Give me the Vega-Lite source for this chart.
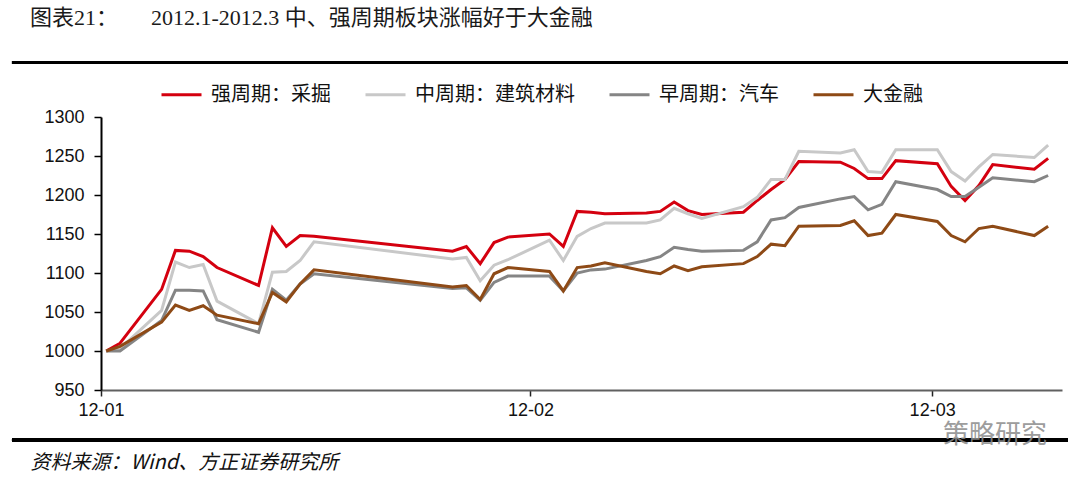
{
  "$schema": "https://vega.github.io/schema/vega-lite/v6.json",
  "width": 961,
  "height": 273,
  "autosize": {"type": "none"},
  "padding": {"left": 101, "top": 117, "right": 18, "bottom": 90},
  "background": "white",
  "title": {
    "text": "图表21：　　2012.1-2012.3 中、强周期板块涨幅好于大金融",
    "anchor": "start",
    "frame": "group",
    "dx": -71,
    "offset": 31,
    "font": "Liberation Serif, Noto Sans CJK SC",
    "fontSize": 22,
    "fontWeight": "normal",
    "color": "#1a1a1a"
  },
  "config": {
    "view": {"stroke": null},
    "axis": {"grid": false},
    "axisY": {"labelOverlap": false, "labelFlush": false}
  },
  "data": {
    "values": [
      {"date": "2012-01-05T00:00", "强周期：采掘": 1000, "中周期：建筑材料": 1000, "早周期：汽车": 1000, "大金融": 1000},
      {"date": "2012-01-06T00:00", "强周期：采掘": 1010, "中周期：建筑材料": 1003, "早周期：汽车": 1000, "大金融": 1006},
      {"date": "2012-01-09T00:00", "强周期：采掘": 1079, "中周期：建筑材料": 1052, "早周期：汽车": 1039, "大金融": 1037},
      {"date": "2012-01-10T00:00", "强周期：采掘": 1129, "中周期：建筑材料": 1114, "早周期：汽车": 1078, "大金融": 1059},
      {"date": "2012-01-11T00:00", "强周期：采掘": 1128, "中周期：建筑材料": 1107, "早周期：汽车": 1078, "大金融": 1052},
      {"date": "2012-01-12T00:00", "强周期：采掘": 1121, "中周期：建筑材料": 1111, "早周期：汽车": 1077, "大金融": 1058},
      {"date": "2012-01-13T00:00", "强周期：采掘": 1107, "中周期：建筑材料": 1064, "早周期：汽车": 1040, "大金融": 1046},
      {"date": "2012-01-16T00:00", "强周期：采掘": 1084, "中周期：建筑材料": 1035, "早周期：汽车": 1024, "大金融": 1035},
      {"date": "2012-01-17T00:00", "强周期：采掘": 1158, "中周期：建筑材料": 1101, "早周期：汽车": 1079, "大金融": 1075},
      {"date": "2012-01-18T00:00", "强周期：采掘": 1134, "中周期：建筑材料": 1102, "早周期：汽车": 1065, "大金融": 1063},
      {"date": "2012-01-19T00:00", "强周期：采掘": 1148, "中周期：建筑材料": 1116, "早周期：汽车": 1086, "大金融": 1086},
      {"date": "2012-01-20T00:00", "强周期：采掘": 1147, "中周期：建筑材料": 1140, "早周期：汽车": 1099, "大金融": 1104},
      {"date": "2012-01-30T00:00", "强周期：采掘": 1128, "中周期：建筑材料": 1118, "早周期：汽车": 1080, "大金融": 1082},
      {"date": "2012-01-31T00:00", "强周期：采掘": 1134, "中周期：建筑材料": 1120, "早周期：汽车": 1081, "大金融": 1084},
      {"date": "2012-02-01T00:00", "强周期：采掘": 1112, "中周期：建筑材料": 1090, "早周期：汽车": 1065, "大金融": 1066},
      {"date": "2012-02-02T00:00", "强周期：采掘": 1139, "中周期：建筑材料": 1110, "早周期：汽车": 1088, "大金融": 1099},
      {"date": "2012-02-03T00:00", "强周期：采掘": 1146, "中周期：建筑材料": 1117, "早周期：汽车": 1096, "大金融": 1107},
      {"date": "2012-02-06T00:00", "强周期：采掘": 1150, "中周期：建筑材料": 1142, "早周期：汽车": 1096, "大金融": 1102},
      {"date": "2012-02-07T00:00", "强周期：采掘": 1134, "中周期：建筑材料": 1116, "早周期：汽车": 1077, "大金融": 1077},
      {"date": "2012-02-08T00:00", "强周期：采掘": 1179, "中周期：建筑材料": 1147, "早周期：汽车": 1100, "大金融": 1107},
      {"date": "2012-02-09T00:00", "强周期：采掘": 1178, "中周期：建筑材料": 1157, "早周期：汽车": 1104, "大金融": 1109},
      {"date": "2012-02-10T00:00", "强周期：采掘": 1176, "中周期：建筑材料": 1164, "早周期：汽车": 1105, "大金融": 1113},
      {"date": "2012-02-13T00:00", "强周期：采掘": 1177, "中周期：建筑材料": 1164, "早周期：汽车": 1116, "大金融": 1102},
      {"date": "2012-02-14T00:00", "强周期：采掘": 1179, "中周期：建筑材料": 1168, "早周期：汽车": 1121, "大金融": 1099},
      {"date": "2012-02-15T00:00", "强周期：采掘": 1191, "中周期：建筑材料": 1183, "早周期：汽车": 1133, "大金融": 1109},
      {"date": "2012-02-16T00:00", "强周期：采掘": 1180, "中周期：建筑材料": 1176, "早周期：汽车": 1130, "大金融": 1103},
      {"date": "2012-02-17T00:00", "强周期：采掘": 1175, "中周期：建筑材料": 1170, "早周期：汽车": 1128, "大金融": 1108},
      {"date": "2012-02-20T00:00", "强周期：采掘": 1178, "中周期：建筑材料": 1185, "早周期：汽车": 1129, "大金融": 1112},
      {"date": "2012-02-21T00:00", "强周期：采掘": 1193, "中周期：建筑材料": 1197, "早周期：汽车": 1140, "大金融": 1121},
      {"date": "2012-02-22T00:00", "强周期：采掘": 1207, "中周期：建筑材料": 1220, "早周期：汽车": 1168, "大金融": 1137},
      {"date": "2012-02-23T00:00", "强周期：采掘": 1220, "中周期：建筑材料": 1220, "早周期：汽车": 1171, "大金融": 1135},
      {"date": "2012-02-24T00:00", "强周期：采掘": 1243, "中周期：建筑材料": 1256, "早周期：汽车": 1184, "大金融": 1160},
      {"date": "2012-02-27T00:00", "强周期：采掘": 1242, "中周期：建筑材料": 1254, "早周期：汽车": 1195, "大金融": 1161},
      {"date": "2012-02-28T00:00", "强周期：采掘": 1234, "中周期：建筑材料": 1258, "早周期：汽车": 1198, "大金融": 1167},
      {"date": "2012-02-29T00:00", "强周期：采掘": 1221, "中周期：建筑材料": 1230, "早周期：汽车": 1181, "大金融": 1148},
      {"date": "2012-03-01T00:00", "强周期：采掘": 1221, "中周期：建筑材料": 1229, "早周期：汽车": 1188, "大金融": 1151},
      {"date": "2012-03-02T00:00", "强周期：采掘": 1244, "中周期：建筑材料": 1258, "早周期：汽车": 1217, "大金融": 1175},
      {"date": "2012-03-05T00:00", "强周期：采掘": 1240, "中周期：建筑材料": 1258, "早周期：汽车": 1207, "大金融": 1166},
      {"date": "2012-03-06T00:00", "强周期：采掘": 1211, "中周期：建筑材料": 1230, "早周期：汽车": 1198, "大金融": 1148},
      {"date": "2012-03-07T00:00", "强周期：采掘": 1193, "中周期：建筑材料": 1218, "早周期：汽车": 1198, "大金融": 1140},
      {"date": "2012-03-08T00:00", "强周期：采掘": 1212, "中周期：建筑材料": 1236, "早周期：汽车": 1210, "大金融": 1157},
      {"date": "2012-03-09T00:00", "强周期：采掘": 1239, "中周期：建筑材料": 1252, "早周期：汽车": 1222, "大金融": 1160},
      {"date": "2012-03-12T00:00", "强周期：采掘": 1233, "中周期：建筑材料": 1248, "早周期：汽车": 1217, "大金融": 1148},
      {"date": "2012-03-13T00:00", "强周期：采掘": 1247, "中周期：建筑材料": 1264, "早周期：汽车": 1225, "大金融": 1160}
    ]
  },
  "layer": [
    {
      "transform": [{"fold": ["强周期：采掘", "中周期：建筑材料", "早周期：汽车", "大金融"], "as": ["series", "value"]}],
      "mark": {"type": "line", "strokeWidth": 3, "clip": false},
      "encoding": {
        "x": {
          "field": "date",
          "type": "temporal",
          "scale": {"domain": [{"year": 2012, "month": 1, "date": 4, "hours": 15}, {"year": 2012, "month": 3, "date": 14}]},
          "axis": {
            "values": [{"year": 2012, "month": 1, "date": 4, "hours": 15}, {"year": 2012, "month": 2, "date": 4, "hours": 15}, {"year": 2012, "month": 3, "date": 4, "hours": 15}],
            "format": "%y-%m",
            "domainColor": "#606060",
            "domainWidth": 2,
            "tickColor": "#222222",
            "tickWidth": 1.5,
            "tickSize": 6,
            "labelFont": "Liberation Sans Narrow, Liberation Sans",
            "labelFontSize": 18,
            "labelColor": "#111111",
            "labelPadding": 5,
            "labelFlush": false,
            "labelOverlap": false,
            "title": "资料来源：Wind、方正证券研究所",
            "titleAnchor": "start",
            "titleAlign": "left",
            "titleBaseline": "middle",
            "titleX": -71,
            "titleY": 72,
            "titleFont": "Noto Sans CJK SC",
            "titleFontStyle": "italic",
            "titleFontWeight": "normal",
            "titleFontSize": 20,
            "titleColor": "#111111"
          }
        },
        "y": {
          "field": "value",
          "type": "quantitative",
          "scale": {"domain": [950, 1300], "nice": false, "zero": false},
          "axis": {
            "values": [950, 1000, 1050, 1100, 1150, 1200, 1250, 1300],
            "format": "d",
            "labelOverlap": false,
            "labelFlush": false,
            "domainColor": "#000000",
            "domainWidth": 2,
            "tickColor": "#000000",
            "tickWidth": 1.5,
            "tickSize": 7,
            "labelFont": "Liberation Sans Narrow, Liberation Sans",
            "labelFontSize": 18,
            "labelColor": "#111111",
            "labelPadding": 10,
            "title": null
          }
        },
        "color": {
          "field": "series",
          "type": "nominal",
          "scale": {
            "domain": ["强周期：采掘", "中周期：建筑材料", "早周期：汽车", "大金融"],
            "range": ["#D4000F", "#C8C8C8", "#858585", "#8E4A16"]
          },
          "legend": {
            "orient": "none",
            "legendX": 59,
            "legendY": -44,
            "direction": "horizontal",
            "title": null,
            "symbolType": "stroke",
            "symbolSize": 1600,
            "symbolStrokeWidth": 3,
            "labelFont": "Noto Sans CJK SC",
            "labelFontSize": 20,
            "labelColor": "#111111",
            "labelOffset": 8,
            "columnPadding": 28,
            "labelLimit": 300
          }
        }
      }
    },
    {
      "mark": {"type": "rule", "color": "#000000", "strokeWidth": 3, "clip": false},
      "encoding": {
        "x": {"datum": {"year": 2011, "month": 12, "date": 29, "hours": 4, "minutes": 48}, "type": "temporal"},
        "x2": {"datum": {"year": 2012, "month": 3, "date": 14, "hours": 10, "minutes": 24}},
        "y": {
          "datum": 1370,
          "type": "quantitative",
          "scale": {"domain": [950, 1300], "nice": false, "zero": false},
          "axis": {"values": [950, 1000, 1050, 1100, 1150, 1200, 1250, 1300], "format": "d", "labelOverlap": false, "title": null}
        }
      }
    },
    {
      "mark": {"type": "rule", "color": "#000000", "strokeWidth": 3, "clip": false},
      "encoding": {
        "x": {"datum": {"year": 2011, "month": 12, "date": 29, "hours": 4, "minutes": 48}, "type": "temporal"},
        "x2": {"datum": {"year": 2012, "month": 3, "date": 14, "hours": 10, "minutes": 24}},
        "y": {
          "datum": 886,
          "type": "quantitative",
          "scale": {"domain": [950, 1300], "nice": false, "zero": false},
          "axis": {"values": [950, 1000, 1050, 1100, 1150, 1200, 1250, 1300], "format": "d", "labelOverlap": false, "title": null}
        }
      }
    },
    {
      "data": {"values": [{"label": "策略研究"}]},
      "mark": {"type": "text", "font": "Noto Sans CJK SC", "fontSize": 26, "color": "#8c8c8c", "align": "center", "baseline": "middle", "clip": false, "opacity": 0.85},
      "encoding": {
        "text": {"field": "label"},
        "x": {"datum": {"year": 2012, "month": 3, "date": 9, "hours": 4}, "type": "temporal"},
        "y": {
          "datum": 892,
          "type": "quantitative",
          "scale": {"domain": [950, 1300], "nice": false, "zero": false},
          "axis": {"values": [950, 1000, 1050, 1100, 1150, 1200, 1250, 1300], "format": "d", "labelOverlap": false, "title": null}
        }
      }
    }
  ]
}
